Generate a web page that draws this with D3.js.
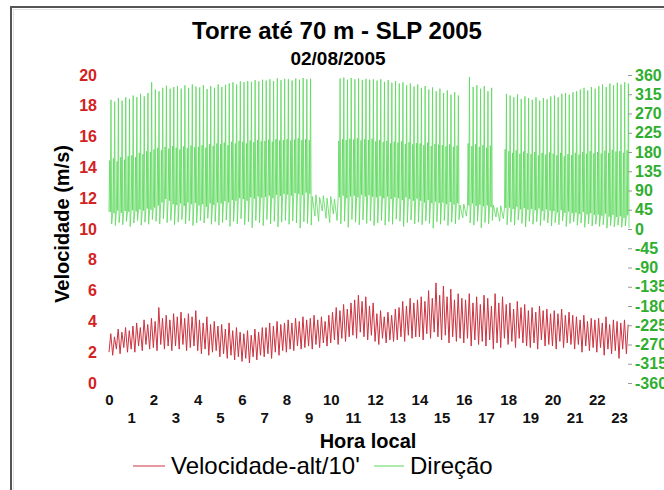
<!DOCTYPE html>
<html>
<head>
<meta charset="utf-8">
<script src="https://cdn.jsdelivr.net/npm/d3@7"></script>
<style>
    body { margin: 0; background: #fff; }
    text { font-family: "Liberation Sans", Arial, sans-serif; }
</style>
</head>
<body onload="init()">
<div id="chart"></div>
<script>
// 10-minute steps, one row per hour (0h .. 23h20)
var speedLo = [
    2.0,1.8,2.2,1.9,2.3,2.0,
    2.2,2.0,2.4,2.1,2.5,2.2,
    2.3,2.1,2.5,2.2,2.4,2.1,
    2.4,2.2,2.5,2.1,2.3,2.4,
    2.1,1.9,2.2,1.8,2.0,2.1,
    1.7,1.9,1.6,1.8,1.5,1.7,
    1.4,1.6,1.3,1.7,1.5,1.8,
    1.7,1.9,1.6,2.0,1.8,2.1,
    2.0,2.2,2.1,2.4,2.2,2.3,
    2.4,2.2,2.5,2.3,2.6,2.4,
    2.6,2.8,2.5,2.9,2.7,3.0,
    3.1,2.9,3.3,3.0,2.8,3.1,
    2.7,2.5,2.9,2.6,2.8,2.7,
    2.8,3.0,2.7,3.1,2.9,3.0,
    3.0,2.8,3.2,2.9,3.3,3.0,
    2.8,3.1,2.6,3.0,2.7,2.9,
    2.6,2.9,2.4,2.8,2.5,2.7,
    2.4,2.8,2.2,2.6,2.3,2.9,
    2.5,2.7,2.3,2.9,2.6,2.4,
    2.3,2.6,2.2,2.8,2.4,2.5,
    2.4,2.2,2.7,2.3,2.6,2.5,
    2.2,2.5,2.0,2.4,2.1,2.3,
    2.0,2.3,1.8,2.2,1.9,2.1,
    1.6,2.2,1.9
];
var speedHi = [
    3.2,3.0,3.5,3.3,3.6,3.4,
    3.7,3.9,3.6,4.1,3.8,4.2,
    4.0,4.9,4.2,4.4,4.1,4.5,
    4.3,4.6,4.2,4.5,4.3,4.7,
    4.1,3.9,4.3,3.8,4.0,3.7,
    3.8,3.5,3.9,3.4,3.6,3.3,
    3.2,3.4,3.1,3.5,3.3,3.6,
    3.6,3.9,3.7,4.0,3.8,3.9,
    4.1,3.9,4.2,4.0,4.3,4.1,
    4.2,4.4,4.1,4.3,4.0,4.4,
    4.6,4.9,4.7,5.1,4.8,5.2,
    5.4,5.7,5.3,5.6,5.0,5.2,
    4.5,4.7,4.3,4.6,4.4,4.8,
    4.9,5.3,5.0,5.5,5.2,5.4,
    5.6,5.3,6.0,5.5,6.5,5.7,
    6.3,5.6,6.1,5.4,5.8,5.5,
    5.4,5.8,5.2,5.6,5.1,5.7,
    5.5,5.0,5.8,5.2,5.6,5.1,
    5.2,4.8,5.3,4.9,5.1,4.7,
    4.9,4.6,5.0,4.7,4.8,4.5,
    4.7,4.5,4.8,4.4,4.6,4.4,
    4.3,4.1,4.4,4.0,4.2,4.1,
    4.2,3.9,4.3,3.8,4.1,4.0,
    3.9,4.1,3.8
];
var dirBase = [
    40,37,43,38,42,40,
    44,41,46,43,48,45,
    50,55,62,70,66,58,
    56,60,54,62,58,61,
    55,58,52,60,56,62,
    60,65,62,68,66,72,
    70,66,74,71,76,73,
    75,78,72,80,77,82,
    80,78,84,82,79,85,
    82,76,80,74,78,72,
    76,70,74,78,72,76,
    78,74,80,76,79,75,
    74,77,72,76,70,74,
    72,68,74,70,66,71,
    66,62,68,60,64,61,
    62,58,63,57,60,56,
    58,55,60,54,57,53,
    55,51,56,50,54,49,
    50,47,52,46,49,45,
    47,44,48,42,46,43,
    42,39,44,38,41,37,
    38,35,40,34,37,33,
    34,31,36,29,33,28,
    30,26,32
];
var dirMid = [
    160,165,158,168,162,170,
    172,168,178,175,182,180,
    186,190,184,192,188,194,
    190,186,193,189,195,191,
    192,196,190,198,194,200,
    198,202,196,204,200,206,
    204,200,207,203,208,205,
    206,209,204,210,207,208,
    210,207,209,212,208,210,
    208,null,null,null,null,null,
    null,null,206,210,208,211,
    209,212,207,210,208,211,
    205,208,203,206,200,204,
    202,205,199,203,198,201,
    200,196,202,194,199,197,
    196,193,198,192,195,null,
    null,200,194,198,192,196,
    190,195,null,null,null,186,
    182,178,184,176,181,177,
    175,180,172,178,174,179,
    176,172,178,170,175,173,
    178,174,180,176,182,177,
    180,176,183,178,185,181,
    182,178,184
];
var dirTop = [
    302,298,306,300,308,304,
    312,308,316,310,318,343,
    326,322,330,335,328,332,
    334,328,336,330,338,333,
    331,336,327,334,330,338,
    332,337,340,343,338,345,
    343,346,344,348,345,349,
    347,350,346,352,348,351,
    350,347,352,349,353,350,
    351,null,null,null,null,null,
    null,null,352,354,349,353,
    350,352,348,351,349,350,
    347,350,344,348,342,346,
    340,343,336,340,333,338,
    330,334,326,331,322,328,
    318,324,314,320,312,null,
    null,355,332,336,328,334,
    322,330,null,null,null,316,
    312,308,315,304,310,306,
    302,308,300,306,303,310,
    312,308,316,318,314,320,
    322,326,330,324,332,328,
    334,338,332,340,336,342,
    338,343,340
];
var dirLow = [
    12,8,15,10,18,6,
    14,20,9,16,11,22,
    18,12,24,15,20,10,
    16,22,12,19,8,14,
    20,14,25,11,17,9,
    15,21,6,18,12,24,
    10,17,3,20,14,8,
    22,12,18,5,16,20,
    11,19,14,2,17,13,
    9,30,18,42,25,15,
    35,20,12,18,4,22,
    16,10,21,13,19,8,
    14,20,9,17,11,23,
    18,6,15,21,12,16,
    10,19,13,2,17,11,
    20,8,16,12,22,26,
    30,14,9,18,3,15,
    12,20,28,18,24,10,
    16,9,21,13,5,18,
    11,17,8,20,14,7,
    15,10,19,6,13,17,
    9,14,4,12,7,11,
    6,10,2,8,5,9,
    4,7,3
];
var hourTicks = d3.range(0, 24);
var speedTicks = [0, 2, 4, 6, 8, 10, 12, 14, 16, 18, 20];
var dirTicks = [360, 315, 270, 225, 180, 135, 90, 45, 0, -45, -90, -135, -180, -225, -270, -315, -360];

function init() {
    var w = 664;
    var h = 490;
    var redColor = "#cc3340";
    var greenColor = "#5cd85c";

    var svg = d3.select("#chart")
        .append("svg")
        .attr("width", w)
        .attr("height", h);

    // frame of the pasted chart
    svg.append("rect")
        .attr("x", 11).attr("y", 7)
        .attr("width", 700).attr("height", 500)
        .style("fill", "#fff")
        .style("stroke", "#555")
        .style("stroke-width", 2);
    svg.append("rect")
        .attr("x", 13.5).attr("y", 9.5)
        .attr("width", 700).attr("height", 500)
        .style("fill", "none")
        .style("stroke", "#e2e2e2")
        .style("stroke-width", 1);

    var xScale = d3.scaleLinear().domain([0, 23]).range([109, 619]);
    var ySpeed = d3.scaleLinear().domain([0, 20]).range([383, 75]);
    var yDir = d3.scaleLinear().domain([-360, 360]).range([383, 75]);

    // series points: each 10 min step holds several readings
    var redPts = [];
    var greenPts = [];
    for (var i = 0; i < speedLo.length; i++) {
        var t = i / 6;
        redPts.push([t, speedLo[i]]);
        redPts.push([t + 0.08, speedHi[i]]);

        greenPts.push([t, dirBase[i]]);
        if (dirMid[i] != null) {
            greenPts.push([t + 0.03, dirMid[i]]);
            greenPts.push([t + 0.06, dirBase[i]]);
        }
        if (dirTop[i] != null) greenPts.push([t + 0.09, dirTop[i]]);
        greenPts.push([t + 0.12, dirLow[i]]);
    }

    var redLine = d3.line()
        .x(function(d) { return xScale(d[0]); })
        .y(function(d) { return ySpeed(d[1]); });
    var greenLine = d3.line()
        .x(function(d) { return xScale(d[0]); })
        .y(function(d) { return yDir(d[1]); });

    svg.append("path")
        .datum(greenPts)
        .attr("d", greenLine)
        .style("fill", "none")
        .style("stroke", greenColor)
        .style("stroke-width", 0.8);

    svg.append("path")
        .datum(redPts)
        .attr("d", redLine)
        .style("fill", "none")
        .style("stroke", redColor)
        .style("stroke-width", 1);

    // left axis (velocity)
    var left = svg.append("g")
        .attr("transform", "translate(103,0)")
        .call(d3.axisLeft(ySpeed).tickValues(speedTicks).tickSize(0).tickPadding(6));
    left.select(".domain").remove();
    left.selectAll("text")
        .style("font-family", "Liberation Sans, Arial, sans-serif")
        .style("font-size", "16px")
        .style("font-weight", "bold")
        .style("fill", "#d42222");

    // right axis (direction), plain hyphen for negatives
    var right = svg.append("g")
        .attr("transform", "translate(628,0)")
        .call(d3.axisRight(yDir).tickValues(dirTicks).tickSize(4).tickPadding(3)
            .tickFormat(function(d) { return String(d); }));
    right.select(".domain").remove();
    right.selectAll("line").style("stroke", "#999");
    right.selectAll("text")
        .style("font-family", "Liberation Sans, Arial, sans-serif")
        .style("font-size", "16px")
        .style("font-weight", "bold")
        .style("fill", "#2fae2f");

    // bottom axis, odd hours on a second row
    var bottom = svg.append("g")
        .attr("transform", "translate(0,394)")
        .call(d3.axisBottom(xScale).tickValues(hourTicks).tickSize(0).tickPadding(0));
    bottom.select(".domain").remove();
    bottom.selectAll("text")
        .attr("y", function(d) { return d % 2 ? 18 : 0; })
        .style("font-family", "Liberation Sans, Arial, sans-serif")
        .style("font-size", "15px")
        .style("font-weight", "bold")
        .style("fill", "#111");

    // titles
    svg.append("text")
        .attr("x", 337).attr("y", 39)
        .attr("text-anchor", "middle")
        .style("font-size", "24px").style("font-weight", "bold")
        .text("Torre até 70 m - SLP 2005");
    svg.append("text")
        .attr("x", 338).attr("y", 65)
        .attr("text-anchor", "middle")
        .style("font-size", "19px").style("font-weight", "bold")
        .text("02/08/2005");
    svg.append("text")
        .attr("transform", "translate(69,224) rotate(-90)")
        .attr("text-anchor", "middle")
        .style("font-size", "20px").style("font-weight", "bold")
        .text("Velocidade (m/s)");
    svg.append("text")
        .attr("x", 368).attr("y", 448)
        .attr("text-anchor", "middle")
        .style("font-size", "20px").style("font-weight", "bold")
        .text("Hora local");

    // legend
    svg.append("line")
        .attr("x1", 133).attr("x2", 165).attr("y1", 466).attr("y2", 466)
        .style("stroke", redColor).style("stroke-width", 1);
    svg.append("text")
        .attr("x", 171).attr("y", 474)
        .style("font-size", "24px")
        .text("Velocidade-alt/10'");
    svg.append("line")
        .attr("x1", 374).attr("x2", 404).attr("y1", 466).attr("y2", 466)
        .style("stroke", greenColor).style("stroke-width", 1);
    svg.append("text")
        .attr("x", 410).attr("y", 474)
        .style("font-size", "24px")
        .text("Direção");
}
</script>
</body>
</html>
